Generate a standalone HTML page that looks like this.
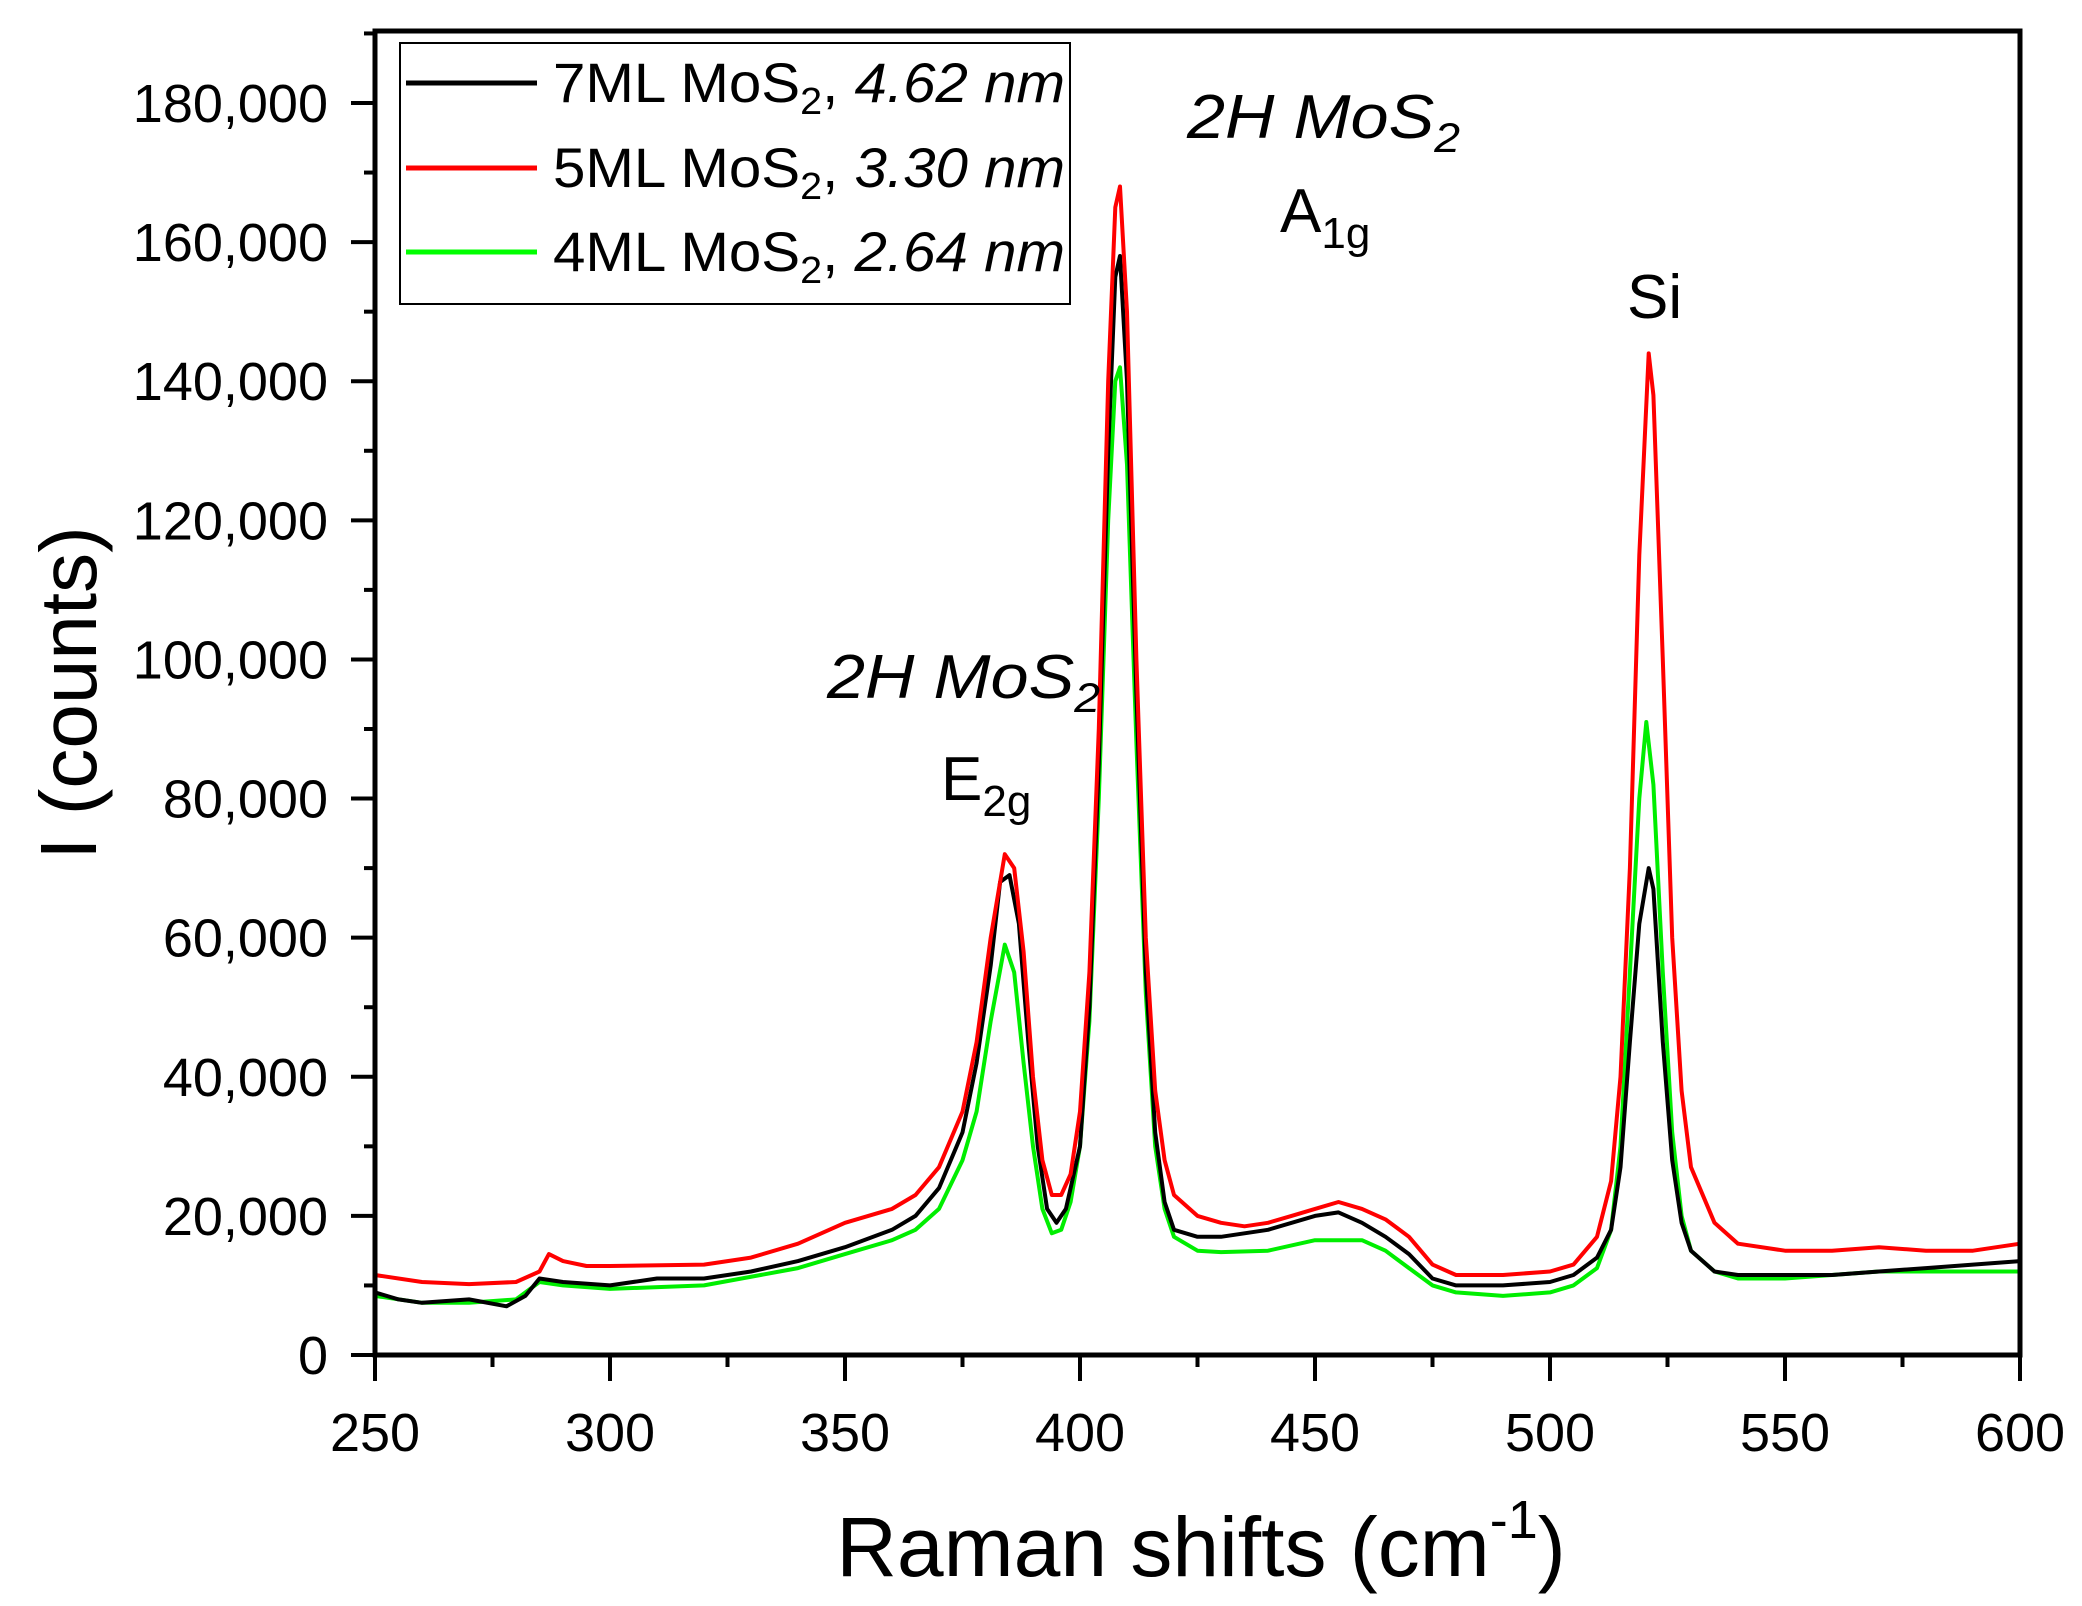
<!DOCTYPE html>
<html><head><meta charset="utf-8"><style>
html,body{margin:0;padding:0;background:#fff;}
svg{display:block;font-family:"Liberation Sans",sans-serif;}
</style></head><body>
<svg id="chart" width="2082" height="1606" viewBox="0 0 2082 1606" xmlns="http://www.w3.org/2000/svg">
<rect width="2082" height="1606" fill="#fff"/>
<g id="series"></g>
<g id="axes"></g>
<g>
<rect x="400" y="43" width="670" height="261" fill="#fff" stroke="#000" stroke-width="2"/>
<line x1="406" y1="83" x2="537" y2="83" stroke="#000" stroke-width="5"/>
<line x1="406" y1="168" x2="537" y2="168" stroke="#f00" stroke-width="5"/>
<line x1="406" y1="252" x2="537" y2="252" stroke="#0f0" stroke-width="5"/>
<text x="553" y="102" font-size="56" textLength="512" lengthAdjust="spacingAndGlyphs">7ML MoS<tspan font-size="38" dy="12">2</tspan><tspan dy="-12">, </tspan><tspan font-style="italic">4.62 nm</tspan></text>
<text x="553" y="187" font-size="56" textLength="512" lengthAdjust="spacingAndGlyphs">5ML MoS<tspan font-size="38" dy="12">2</tspan><tspan dy="-12">, </tspan><tspan font-style="italic">3.30 nm</tspan></text>
<text x="553" y="271" font-size="56" textLength="512" lengthAdjust="spacingAndGlyphs">4ML MoS<tspan font-size="38" dy="12">2</tspan><tspan dy="-12">, </tspan><tspan font-style="italic">2.64 nm</tspan></text>
</g>
<text x="1187" y="138" font-size="62" font-style="italic" textLength="273" lengthAdjust="spacingAndGlyphs">2H MoS<tspan font-size="42" dy="14">2</tspan></text>
<text x="1280" y="232" font-size="62">A<tspan font-size="44" dy="16">1g</tspan></text>
<text x="827" y="698" font-size="62" font-style="italic" textLength="273" lengthAdjust="spacingAndGlyphs">2H MoS<tspan font-size="42" dy="14">2</tspan></text>
<text x="941" y="800" font-size="62">E<tspan font-size="44" dy="16">2g</tspan></text>
<text x="1627" y="318" font-size="62">Si</text>
<text x="1201" y="1576" font-size="84" text-anchor="middle">Raman shifts (cm<tspan font-size="54" dy="-38">-1</tspan><tspan dy="38">)</tspan></text>
<text transform="translate(96,693) rotate(-90)" font-size="80" text-anchor="middle">I (counts)</text>
</svg>
<script>
const xTicks=[250,300,350,400,450,500,550,600];
const yTicks=[0,20000,40000,60000,80000,100000,120000,140000,160000,180000];
const yTickLabels=["0","20,000","40,000","60,000","80,000","100,000","120,000","140,000","160,000","180,000"];
const redX=[250,260,270,280,285,287,290,295,300,320,330,340,350,360,365,370,375,378,381,384,386,388,390,392,394,396,398,400,402,404,406,407.5,408.5,410,412,414,416,418,420,425,430,435,440,445,450,455,460,465,470,475,480,490,500,505,510,513,515,517,519,521,522,524,526,528,530,535,540,550,560,570,580,590,600];
const redY=[11.5,10.5,10.2,10.5,12,14.5,13.5,12.8,12.8,13,14,16,19,21,23,27,35,45,60,72,70,58,40,28,23,23,26,35,55,90,140,165,168,150,100,60,38,28,23,20,19,18.5,19,20,21,22,21,19.5,17,13,11.5,11.5,12,13,17,25,40,70,115,144,138,100,60,38,27,19,16,15,15,15.5,15,15,16];
const blackX=[250,255,260,270,278,282,285,290,300,310,320,330,340,350,360,365,370,375,378,381,383,385,387,389,391,393,395,397,400,402,404,406,407.5,408.5,410,412,414,416,418,420,425,430,440,450,455,460,465,470,475,480,490,500,505,510,513,515,517,519,521,522,524,526,528,530,535,540,550,560,570,580,590,600];
const blackY=[9,8,7.5,8,7,8.5,11,10.5,10,11,11,12,13.5,15.5,18,20,24,32,42,56,68,69,62,45,30,21,19,21,30,50,85,130,155,158,140,95,55,32,22,18,17,17,18,20,20.5,19,17,14.5,11,10,10,10.5,11.5,14,18,27,45,62,70,67,45,28,19,15,12,11.5,11.5,11.5,12,12.5,13,13.5];
const greenX=[250,260,270,280,285,290,300,320,340,350,360,365,370,375,378,381,384,386,388,390,392,394,396,398,400,402,404,406,407.5,408.5,410,412,414,416,418,420,425,430,440,450,460,465,470,475,480,490,500,505,510,513,515,517,519,520.5,522,524,526,528,530,535,540,550,560,570,580,590,600];
const greenY=[8.5,7.5,7.5,8,10.5,10,9.5,10,12.5,14.5,16.5,18,21,28,35,48,59,55,42,30,21,17.5,18,22,30,48,80,120,140,142,128,88,52,30,21,17,15,14.8,15,16.5,16.5,15,12.5,10,9,8.5,9,10,12.5,18,30,55,80,91,82,55,32,20,15,12,11,11,11.5,12,12,12,12];
const X0=375,X1=2020,Y0=1355,PX=(1355-103)/180000;
const sx=v=>X0+(v-250)*(X1-X0)/350;
const sy=v=>Y0-v*PX;
const NS="http://www.w3.org/2000/svg";
const sg=document.getElementById('series');
function draw(xs,ys,color,name){
  const p=document.createElementNS(NS,'polyline');
  p.setAttribute('points',xs.map((x,i)=>sx(x).toFixed(1)+','+sy(ys[i]*1000).toFixed(1)).join(' '));
  p.setAttribute('fill','none');p.setAttribute('stroke',color);p.setAttribute('stroke-width','4');p.setAttribute('stroke-linejoin','round');
  
  
  sg.appendChild(p);
}
draw(greenX,greenY,'#00ee00','series-4ml');
draw(blackX,blackY,'#000','series-7ml');
draw(redX,redY,'#f00','series-5ml');
const ag=document.getElementById('axes');
let h='<rect x="'+X0+'" y="31" width="'+(X1-X0)+'" height="'+(Y0-31)+'" fill="none" stroke="#000" stroke-width="5"/>';
for(let v=250;v<=600;v+=25){const x=sx(v),maj=v%50==0;h+='<line x1="'+x+'" y1="'+Y0+'" x2="'+x+'" y2="'+(Y0+(maj?26:12))+'" stroke="#000" stroke-width="4"/>';}
for(let v=0;v<=190000;v+=10000){const y=sy(v),maj=v%20000==0;h+='<line x1="'+X0+'" y1="'+y+'" x2="'+(X0-(maj?24:11))+'" y2="'+y+'" stroke="#000" stroke-width="4"/>';}
ag.innerHTML=h;
xTicks.forEach(v=>{const t=document.createElementNS(NS,'text');t.setAttribute('x',sx(v));t.setAttribute('y',1451);t.setAttribute('font-size','54');t.setAttribute('text-anchor','middle');t.textContent=v;


ag.appendChild(t);});
yTicks.forEach((v,i)=>{const t=document.createElementNS(NS,'text');t.setAttribute('x',328);t.setAttribute('y',sy(v)+19);t.setAttribute('font-size','54');t.setAttribute('text-anchor','end');t.textContent=yTickLabels[i];


ag.appendChild(t);});
</script>
</body></html>
